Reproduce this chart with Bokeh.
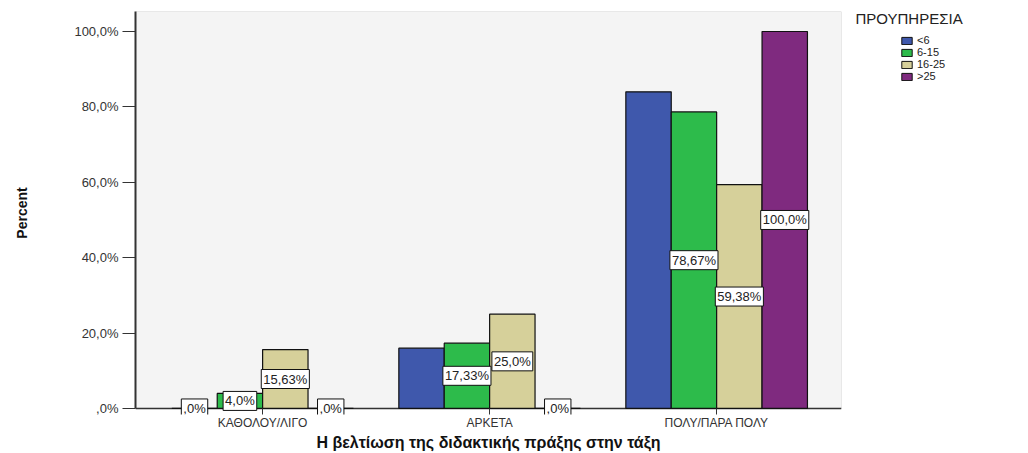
from bokeh.plotting import figure
from bokeh.layouts import row
from bokeh.models import (ColumnDataSource, FixedTicker, Label, Legend, LegendItem, Range1d,
                          BoxAnnotation, Span)
from bokeh.transform import dodge
from bokeh.embed import file_html
from bokeh.resources import INLINE

# ---- data ----
categories = ["ΚΑΘΟΛΟΥ/ΛΙΓΟ", "ΑΡΚΕΤΑ", "ΠΟΛΥ/ΠΑΡΑ ΠΟΛΥ"]
series_names = ["<6", "6-15", "16-25", ">25"]
vals_lt6 = [0.0, 16.0, 84.0]
vals_6_15 = [4.0, 17.33, 78.67]
vals_16_25 = [15.63, 25.0, 59.38]
vals_gt25 = [0.0, 0.0, 100.0]
labels_lt6 = [",0%", "", ""]
labels_6_15 = ["4,0%", "17,33%", "78,67%"]
labels_16_25 = ["15,63%", "25,0%", "59,38%"]
labels_gt25 = [",0%", ",0%", "100,0%"]
y_ticks = [0, 20, 40, 60, 80, 100]
y_tick_labels = [",0%", "20,0%", "40,0%", "60,0%", "80,0%", "100,0%"]
legend_title = "ΠΡΟΥΠΗΡΕΣΙΑ"
x_title = "Η βελτίωση της διδακτικής πράξης στην τάξη"
y_title = "Percent"

series_vals = [vals_lt6, vals_6_15, vals_16_25, vals_gt25]
series_labels = [labels_lt6, labels_6_15, labels_16_25, labels_gt25]
colors = ["#3f58ac", "#2dbb4b", "#d6d09a", "#7f2a7f"]
offsets = [-0.3, -0.1, 0.1, 0.3]
bar_w = 0.2
FONT = "Liberation Sans"
Y_TOP = 105.3
Y_BOTTOM = -1.6

H = 453
W_MAIN = 842
W_LEG = 186
B_TOP, B_BOTTOM = 11, 39
FRAME_H = H - B_TOP - B_BOTTOM

p = figure(width=W_MAIN, height=H, x_range=Range1d(-0.56, 2.55), y_range=Range1d(Y_BOTTOM, Y_TOP),
           output_backend="svg", toolbar_location=None,
           min_border_left=135, min_border_right=1, min_border_top=B_TOP, min_border_bottom=B_BOTTOM)
p.background_fill_color = "white"
p.border_fill_color = "white"
p.outline_line_color = None
p.xgrid.visible = False
p.ygrid.visible = False

# plot area (grey panel from the zero line up) and the zero line
p.add_layout(BoxAnnotation(bottom=0, fill_color="#f4f4f4", fill_alpha=1.0,
                           line_color="#777777", line_width=1, level="underlay"))
p.add_layout(Span(location=0, dimension="width", line_color="#333333", line_width=1.5,
                  level="underlay"))

# y axis
ya = p.yaxis[0]
ya.bounds = (0, Y_TOP)
ya.ticker = FixedTicker(ticks=y_ticks)
ya.major_label_overrides = dict(zip(y_ticks, y_tick_labels))
ya.minor_tick_line_color = None
ya.major_tick_in = 0
ya.major_tick_out = 13
ya.major_tick_line_color = "#333333"
ya.axis_line_color = "#333333"
ya.axis_line_width = 2
ya.major_label_text_font = FONT
ya.major_label_text_font_size = "13px"
ya.major_label_text_color = "#333333"
ya.major_label_standoff = 4
ya.axis_label = y_title
ya.axis_label_text_font = FONT
ya.axis_label_text_font_size = "14px"
ya.axis_label_text_font_style = "bold"
ya.axis_label_text_color = "#111111"
ya.axis_label_standoff = 41

# x axis
xa = p.xaxis[0]
xa.ticker = FixedTicker(ticks=list(range(len(categories))))
xa.major_label_overrides = dict(zip(range(len(categories)), categories))
xa.minor_tick_line_color = None
xa.major_tick_in = 6
xa.major_tick_out = 0
xa.major_tick_line_color = "#333333"
xa.axis_line_color = None
xa.major_label_text_font = FONT
xa.major_label_text_font_size = "12px"
xa.major_label_text_color = "#333333"
xa.major_label_standoff = 1
xa.axis_label = x_title
xa.axis_label_text_font = FONT
xa.axis_label_text_font_size = "16px"
xa.axis_label_text_font_style = "bold"
xa.axis_label_text_color = "#111111"
xa.axis_label_standoff = 1

# bars
for vals, col, off in zip(series_vals, colors, offsets):
    src = ColumnDataSource(dict(x=list(range(len(categories))), top=vals))
    p.vbar(x=dodge("x", off), top="top", width=bar_w, source=src,
           fill_color=col, line_color="#111111", line_width=1.2)

# value labels (centred in the bar)
for vals, labs, off in zip(series_vals, series_labels, offsets):
    for j, (v, t) in enumerate(zip(vals, labs)):
        if not t:
            continue
        p.add_layout(Label(x=j + off, y=v / 2, text=t, text_align="center", text_baseline="middle",
                           text_font=FONT, text_font_size="13px", text_color="#222222",
                           background_fill_color="white", border_line_color="#111111",
                           border_line_width=1, padding=2))

# legend panel (its bars lie outside its visible ranges; only the legend shows)
pl = figure(width=W_LEG, height=H, x_range=Range1d(-20, -19), y_range=Range1d(-300, -200),
            x_axis_type=None, y_axis_type=None, output_backend="svg", toolbar_location=None,
            min_border_left=13, min_border_right=0, min_border_top=B_TOP, min_border_bottom=B_BOTTOM)
pl.outline_line_color = None
pl.background_fill_color = "white"
pl.border_fill_color = "white"
pl.xgrid.visible = False
pl.ygrid.visible = False
swatches = []
for vals, col, off in zip(series_vals, colors, offsets):
    src = ColumnDataSource(dict(x=list(range(len(categories))), top=vals))
    swatches.append(pl.vbar(x=dodge("x", off), top="top", width=bar_w, source=src,
                            fill_color=col, line_color="#111111", line_width=1))
legend = Legend(items=[LegendItem(label=n, renderers=[r]) for n, r in zip(series_names, swatches)],
                location=(45, FRAME_H - 23 - 48), padding=0, spacing=0, margin=0,
                glyph_width=13, glyph_height=9, label_height=9, label_standoff=4,
                label_text_font=FONT, label_text_font_size="11px", label_text_color="#222222",
                background_fill_alpha=0, border_line_alpha=0)
pl.add_layout(legend)
pl.add_layout(Label(x=0, y=FRAME_H - 7, x_units="screen", y_units="screen", text=legend_title,
                    text_baseline="middle", text_font=FONT, text_font_size="15px",
                    text_color="#222222"))

layout = row(p, pl)
open("out.html", "w").write(file_html(layout, INLINE))
